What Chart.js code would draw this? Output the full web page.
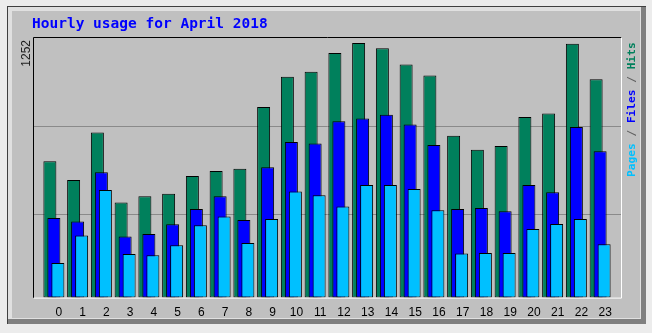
<!DOCTYPE html>
<html>
<head>
<meta charset="utf-8">
<title>Hourly usage for April 2018</title>
<script src="https://cdn.jsdelivr.net/npm/chart.js@4.4.1/dist/chart.umd.min.js"></script>
<style>
  body { margin: 0; background: #ececec; }
  canvas { display: block; }
</style>
</head>
<body>
<canvas id="hourChart" width="652" height="333"></canvas>
<script>
// hourly totals
const hours = ['0','1','2','3','4','5','6','7','8','9','10','11','12','13','14','15','16','17','18','19','20','21','22','23'];
const hits  = [671, 578, 812, 468, 498, 511, 598, 623, 634, 938, 1086, 1111, 1203, 1252, 1227, 1147, 1092, 796, 727, 746, 888, 906, 1249, 1074];
const files = [392, 374, 616, 300, 313, 361, 436, 498, 382, 641, 765, 758, 868, 881, 900, 852, 751, 436, 441, 425, 554, 518, 839, 720];
const pages = [170, 306, 529, 214, 208, 257, 356, 399, 268, 387, 522, 503, 448, 554, 554, 534, 430, 217, 219, 219, 338, 362, 387, 263];

const maxLabel = '1252';
const gridValues = [412, 845];
const axisTop = 1277;

const titleText = 'Hourly usage for April 2018';
const legendParts = [['Pages', '#00c0ff'], [' / ', '#606060'], ['Files', '#0000ff'], [' / ', '#606060'], ['Hits', '#00805c']];

// webalizer-like frame, grid, title and vertical texts
const webalizerLook = {
  id: 'webalizerLook',
  beforeDraw(chart) {
    const c = chart.ctx;
    c.save();
    c.fillStyle = '#ececec';
    c.fillRect(0, 0, 652, 333);
    // outer panel
    c.fillStyle = '#808080';
    c.fillRect(7, 6, 639, 318);
    c.fillStyle = '#e0e0e0';
    c.fillRect(7, 6, 634, 313);
    c.fillStyle = '#c0c0c0';
    c.fillRect(12, 11, 628, 307);
    c.fillStyle = '#404040';
    c.fillRect(7, 6, 639, 1);
    c.fillRect(7, 6, 1, 318);
    c.restore();
  },
  beforeDatasetsDraw(chart) {
    const c = chart.ctx;
    const a = chart.chartArea;
    const y = chart.scales.y;
    c.save();
    c.strokeStyle = '#8a8a8a';
    c.lineWidth = 1;
    gridValues.forEach(v => {
      const py = Math.round(y.getPixelForValue(v)) + 0.5;
      c.beginPath();
      c.moveTo(a.left - 8, py);
      c.lineTo(a.right + 9, py);
      c.stroke();
    });
    c.restore();
    // draw hits first so the later series sit on top
    [0, 1, 2].forEach(i => chart.getDatasetMeta(i).controller.draw());
    return false;
  },
  afterDraw(chart) {
    const c = chart.ctx;
    const a = chart.chartArea;
    const left = a.left - 8.5, right = a.right + 9.5;
    const top = a.top - 0.5, bottom = a.bottom + 0.5;
    c.save();
    c.lineWidth = 1;
    c.strokeStyle = '#000000';
    c.beginPath();
    c.moveTo(left, bottom); c.lineTo(left, top); c.lineTo(right, top);
    c.stroke();
    c.strokeStyle = '#ffffff';
    c.beginPath();
    c.moveTo(right, top); c.lineTo(right, bottom); c.lineTo(left, bottom);
    c.stroke();

    // title
    c.fillStyle = '#0000ff';
    c.font = 'bold 14.5px "DejaVu Sans Mono"';
    c.textBaseline = 'middle';
    c.textAlign = 'left';
    c.fillText(titleText, 32, 24);

    // max value on the left, vertical
    c.save();
    c.translate(27, a.top + 2);
    c.rotate(-Math.PI / 2);
    c.font = '12px "Liberation Sans"';
    c.fillStyle = '#202020';
    c.textAlign = 'right';
    c.textBaseline = 'middle';
    c.fillText(maxLabel, 0, 0);
    c.restore();

    // legend on the right, vertical
    c.save();
    c.translate(632, 177);
    c.rotate(-Math.PI / 2);
    c.font = 'bold 11.2px "DejaVu Sans Mono"';
    c.textAlign = 'left';
    c.textBaseline = 'middle';
    let x = 0;
    legendParts.forEach(p => {
      c.fillStyle = p[1];
      c.fillText(p[0], x, 0);
      x += c.measureText(p[0]).width;
    });
    c.restore();
    c.restore();
  }
};

const barOpts = {
  borderColor: '#000000',
  borderWidth: 1,
  borderSkipped: false,
  categoryPercentage: 0.505,
  barPercentage: 3.25
};

new Chart(document.getElementById('hourChart'), {
  type: 'bar',
  data: {
    labels: hours,
    datasets: [
      Object.assign({ label: 'Hits', data: hits, backgroundColor: '#00805c' }, barOpts),
      Object.assign({ label: 'Files', data: files, backgroundColor: '#0000ff' }, barOpts),
      Object.assign({ label: 'Pages', data: pages, backgroundColor: '#00c0ff' }, barOpts)
    ]
  },
  options: {
    responsive: false,
    animation: false,
    events: [],
    layout: { padding: { left: 42, right: 40, top: 38, bottom: 5 } },
    plugins: {
      legend: { display: false },
      title: { display: false },
      tooltip: { enabled: false }
    },
    scales: {
      x: {
        grid: { display: false, drawTicks: false },
        border: { display: false },
        ticks: {
          color: '#000000',
          font: { family: 'Liberation Sans', size: 12 },
          padding: 8,
          labelOffset: 5,
          maxRotation: 0,
          autoSkip: false
        }
      },
      y: {
        display: false,
        min: 0,
        max: axisTop
      }
    }
  },
  plugins: [webalizerLook]
});
</script>
</body>
</html>
